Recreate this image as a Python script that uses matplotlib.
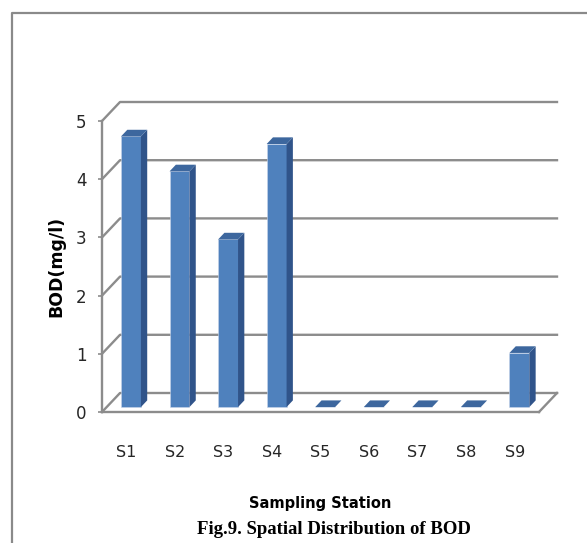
import numpy as np
import matplotlib
matplotlib.use("Agg")
import matplotlib.pyplot as plt
from matplotlib.patches import Polygon
from matplotlib.lines import Line2D

# data
stations = ["S1", "S2", "S3", "S4", "S5", "S6", "S7", "S8", "S9"]
bod = [4.65, 4.05, 2.88, 4.52, 0.0, 0.0, 0.0, 0.0, 0.93]
y_ticks = [0, 1, 2, 3, 4, 5]

narrow = ["Liberation Sans Narrow", "DejaVu Sans Condensed", "DejaVu Sans"]
serif = ["Liberation Serif", "DejaVu Serif"]

W, H = 587, 543
fig = plt.figure(figsize=(W / 100, H / 100), dpi=100)
# axes = front plane of the 3d box
ax = fig.add_axes([102 / W, 1 - 412 / H, 437 / W, 291 / H])
n = len(stations)
ax.set_xlim(-0.5, n - 0.5)
ax.set_ylim(0, 5)

# depth of the 3d box in data units
dx = 18 / 437 * n
dy = 19 / 291 * 5
grid_col = "#8c8c8c"

# back wall gridlines with the diagonal on the left side
for v in y_ticks:
    ax.plot([-0.5, -0.5 + dx, n - 0.5 + dx], [v, v + dy, v + dy],
            color=grid_col, lw=1.7, clip_on=False, zorder=1)
# right edge of the floor
ax.plot([n - 0.5, n - 0.5 + dx], [0, dy], color=grid_col, lw=1.7,
        clip_on=False, zorder=1)

# bars (front face + side + top)
f0, f1 = 0.26, 0.61
w = 0.41
x = np.arange(n)
front_col = "#4F81BD"
side_col = "#30548A"
top_col = "#3D679E"
ax.bar(x + f0 * dx, bod, width=w, bottom=f0 * dy, color=front_col,
       edgecolor="#c9d6ea", linewidth=0.4, zorder=3, clip_on=False)
ddx = (f1 - f0) * dx
ddy = (f1 - f0) * dy
for i, v in zip(x, bod):
    xl = i + f0 * dx - w / 2
    xr = i + f0 * dx + w / 2
    y0 = f0 * dy
    side = Polygon([(xr, y0), (xr + ddx, y0 + ddy), (xr + ddx, y0 + ddy + v), (xr, y0 + v)],
                   closed=True, facecolor=side_col, edgecolor="none", zorder=3, clip_on=False)
    top = Polygon([(xl, y0 + v), (xr, y0 + v), (xr + ddx, y0 + ddy + v), (xl + ddx, y0 + ddy + v)],
                  closed=True, facecolor=top_col, edgecolor="none", zorder=3, clip_on=False)
    ax.add_patch(side)
    ax.add_patch(top)

# axes styling
for s in ["top", "right"]:
    ax.spines[s].set_visible(False)
for s in ["left", "bottom"]:
    ax.spines[s].set_color(grid_col)
    ax.spines[s].set_linewidth(1.7)
ax.set_xticks(x, stations)
ax.set_yticks(y_ticks)
ax.tick_params(axis="x", length=0, pad=24, labelsize=11.5, labelcolor="#262626")
ax.tick_params(axis="y", length=3, width=1.2, color=grid_col, pad=8,
               labelsize=12, labelcolor="#262626")
for lab in ax.get_xticklabels() + ax.get_yticklabels():
    lab.set_fontfamily(narrow)

ax.set_ylabel("BOD(mg/l)", fontsize=12.5, fontweight="bold", family="DejaVu Sans")
ax.yaxis.set_label_coords(-0.084, 0.5)
ax.set_xlabel("Sampling Station", fontsize=10.5, fontweight="bold", family=narrow)
ax.xaxis.set_label_coords(0.499, -0.29)

fig.text(334 / W, 1 - 530 / H, "Fig.9. Spatial Distribution of BOD",
         ha="center", va="center", fontsize=13.5, fontweight="bold", family=serif)

# outer chart border (left and top)
fig.add_artist(Line2D([12 / W, 12 / W, 1.0], [0.0, 1 - 13 / H, 1 - 13 / H],
                      color="#8a8a8a", lw=1.6))

fig.savefig("out.png", dpi=100)
